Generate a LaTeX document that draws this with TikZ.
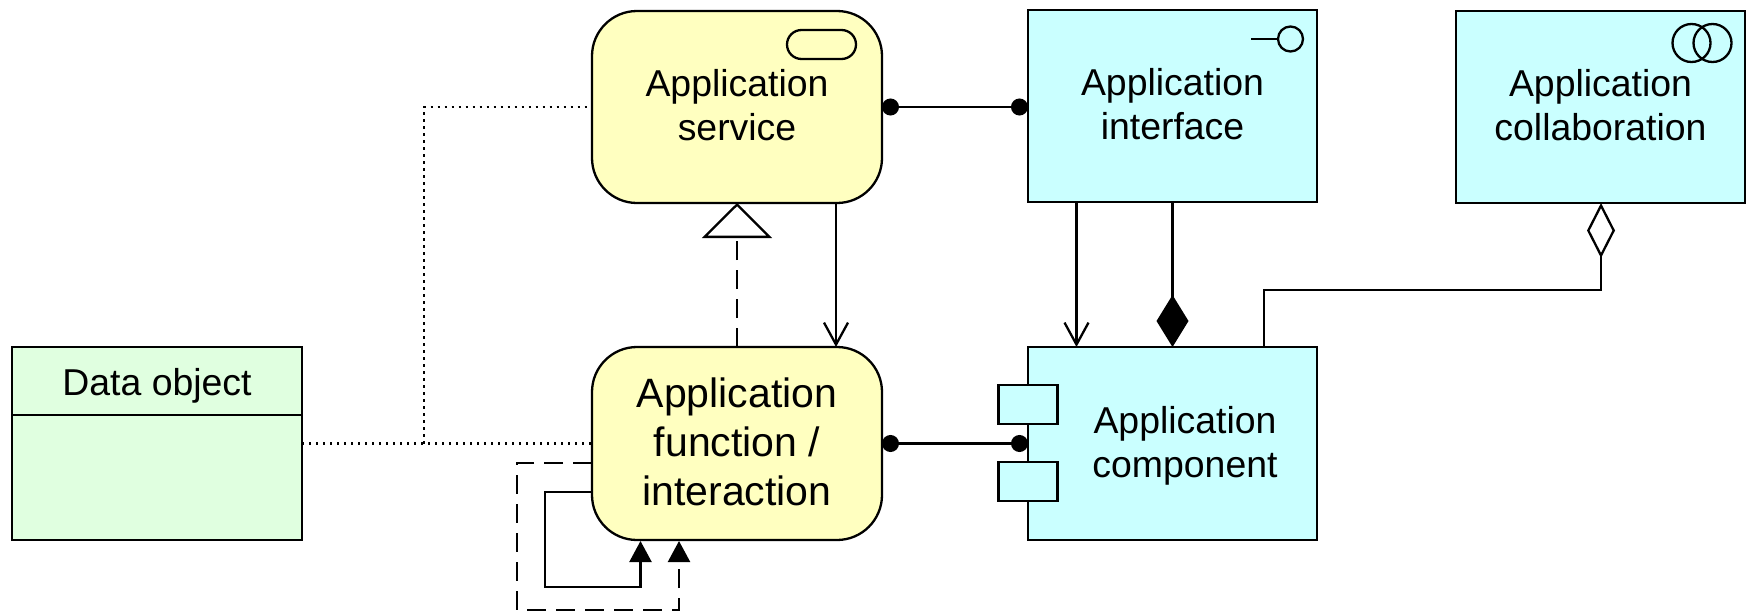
\documentclass[tikz,border=0pt]{standalone}
\usepackage{fontspec}
\setmainfont{Liberation Sans}
\usetikzlibrary{arrows.meta}
\definecolor{behaviour}{HTML}{FFFFC0}
\definecolor{structure}{HTML}{CAFFFF}
\definecolor{passive}{HTML}{E0FFE0}
\tikzset{
  element/.style={draw=black,line width=2.3pt,inner sep=0pt,outer sep=0pt,align=center,font=\fontsize{37.4}{44}\selectfont},
  bigtext/.style={font=\fontsize{41}{49}\selectfont},
  process/.style={element,fill=behaviour,rounded corners=45pt,minimum width=290pt,minimum height=192pt},
  active/.style={element,fill=structure,minimum width=289pt,minimum height=192pt},
  lug/.style={element,fill=structure,minimum width=59pt,minimum height=39pt},
  ring/.style={element,circle,minimum size=38pt},
  link/.style={draw=black,line width=2.3pt},
  assign/.style={link,{Circle[length=17pt]}-{Circle[length=17pt]}},
  flow/.style={link,-{Straight Barb[length=22pt,width=24pt]}},
  trigger/.style={link,-{Triangle[length=21pt,width=22pt]}},
  dashline/.style={dash pattern=on 19pt off 10pt},
  access/.style={draw=black,line width=2.3pt,dash pattern=on 2.4pt off 4.6pt}
}
\begin{document}
\begin{tikzpicture}[x=1pt,y=1pt]
\useasboundingbox (0,0) rectangle (1752,-613);
% boxes
\node [process] (service) at (737,-107) {Application\\service\rule[-4pt]{0pt}{4pt}};
\node [active] (interface) at (1172.5,-106) {Application\\interface\rule[-4pt]{0pt}{4pt}};
\node [active] (collaboration) at (1600.5,-107) {Application\\collaboration\rule[-4pt]{0pt}{4pt}};
\node [process,bigtext,minimum height=193pt] (function) at (737,-443.5) {Application\\function /\\interaction\rule[-4pt]{0pt}{4pt}};
\node [active,minimum height=193pt] (component) at (1172.5,-443.5) {};
\node [element,draw=none] (componentLabel) at (1185,-445.5) {Application\\component};
\node [lug] (lugTop) at (1028,-404.5) {};
\node [lug] (lugBottom) at (1028,-481.5) {};
\node [element,fill=passive,minimum width=290pt,minimum height=68pt] (dataHead) at (157,-381) {\rule{0pt}{37pt}Data object};
\node [element,fill=passive,minimum width=290pt,minimum height=125pt] (dataBody) at (157,-477.5) {};
% icons
\node [element,rounded corners=14.5pt,minimum width=69pt,minimum height=29pt] (serviceIcon) at (821.5,-44.5) {};
\node [element,circle,minimum size=25pt] (interfaceIcon) at (1290.5,-39) {};
\coordinate (interfaceStub) at (1251,-39);
\draw [link] (interfaceStub) -- (interfaceIcon.west);
\node [ring] (ringLeft) at (1691.5,-43) {};
\node [ring] (ringRight) at (1712.5,-43) {};
% connectors
\coordinate (serviceOut) at (836,-203);
\coordinate (interfaceOut) at (1076.5,-202);
\coordinate (componentOut) at (1264,-347);
\coordinate (aggregationBend) at (1601,-290);
\coordinate (junction) at (424,-443.5);
\draw [assign] (service.east) -- (service.east -| interface.west);
\draw [assign] (function.east) -- (component.west);
\draw [link,dashline,-{Triangle[open,length=35pt,width=70pt,fill=white]}] (function.north) -- (service.south);
\draw [flow] (serviceOut) -- (serviceOut |- function.north);
\draw [flow] (interfaceOut) -- (interfaceOut |- component.north);
\draw [link,-{Diamond[length=52pt,width=32pt]}] (interface.south) -- (component.north);
\draw [link,-{Diamond[open,length=55pt,width=28pt,fill=white]}] (componentOut) |- (aggregationBend) -- (aggregationBend |- collaboration.south);
\draw [access] (dataBody.east |- function.west) -- (function.west);
\draw [access] (junction) |- (service.west);
% loops
\coordinate (solidOut) at (592,-492);
\coordinate (solidCorner) at (545,-587);
\coordinate (solidIn) at (640.5,-541);
\coordinate (dashOut) at (592,-463);
\coordinate (dashCorner) at (517,-610);
\coordinate (dashIn) at (679,-541);
\draw [trigger] (solidOut) -| (solidCorner) -| (solidIn);
\draw [trigger,dashline] (dashOut) -| (dashCorner) -| (dashIn);
\end{tikzpicture}
\end{document}
